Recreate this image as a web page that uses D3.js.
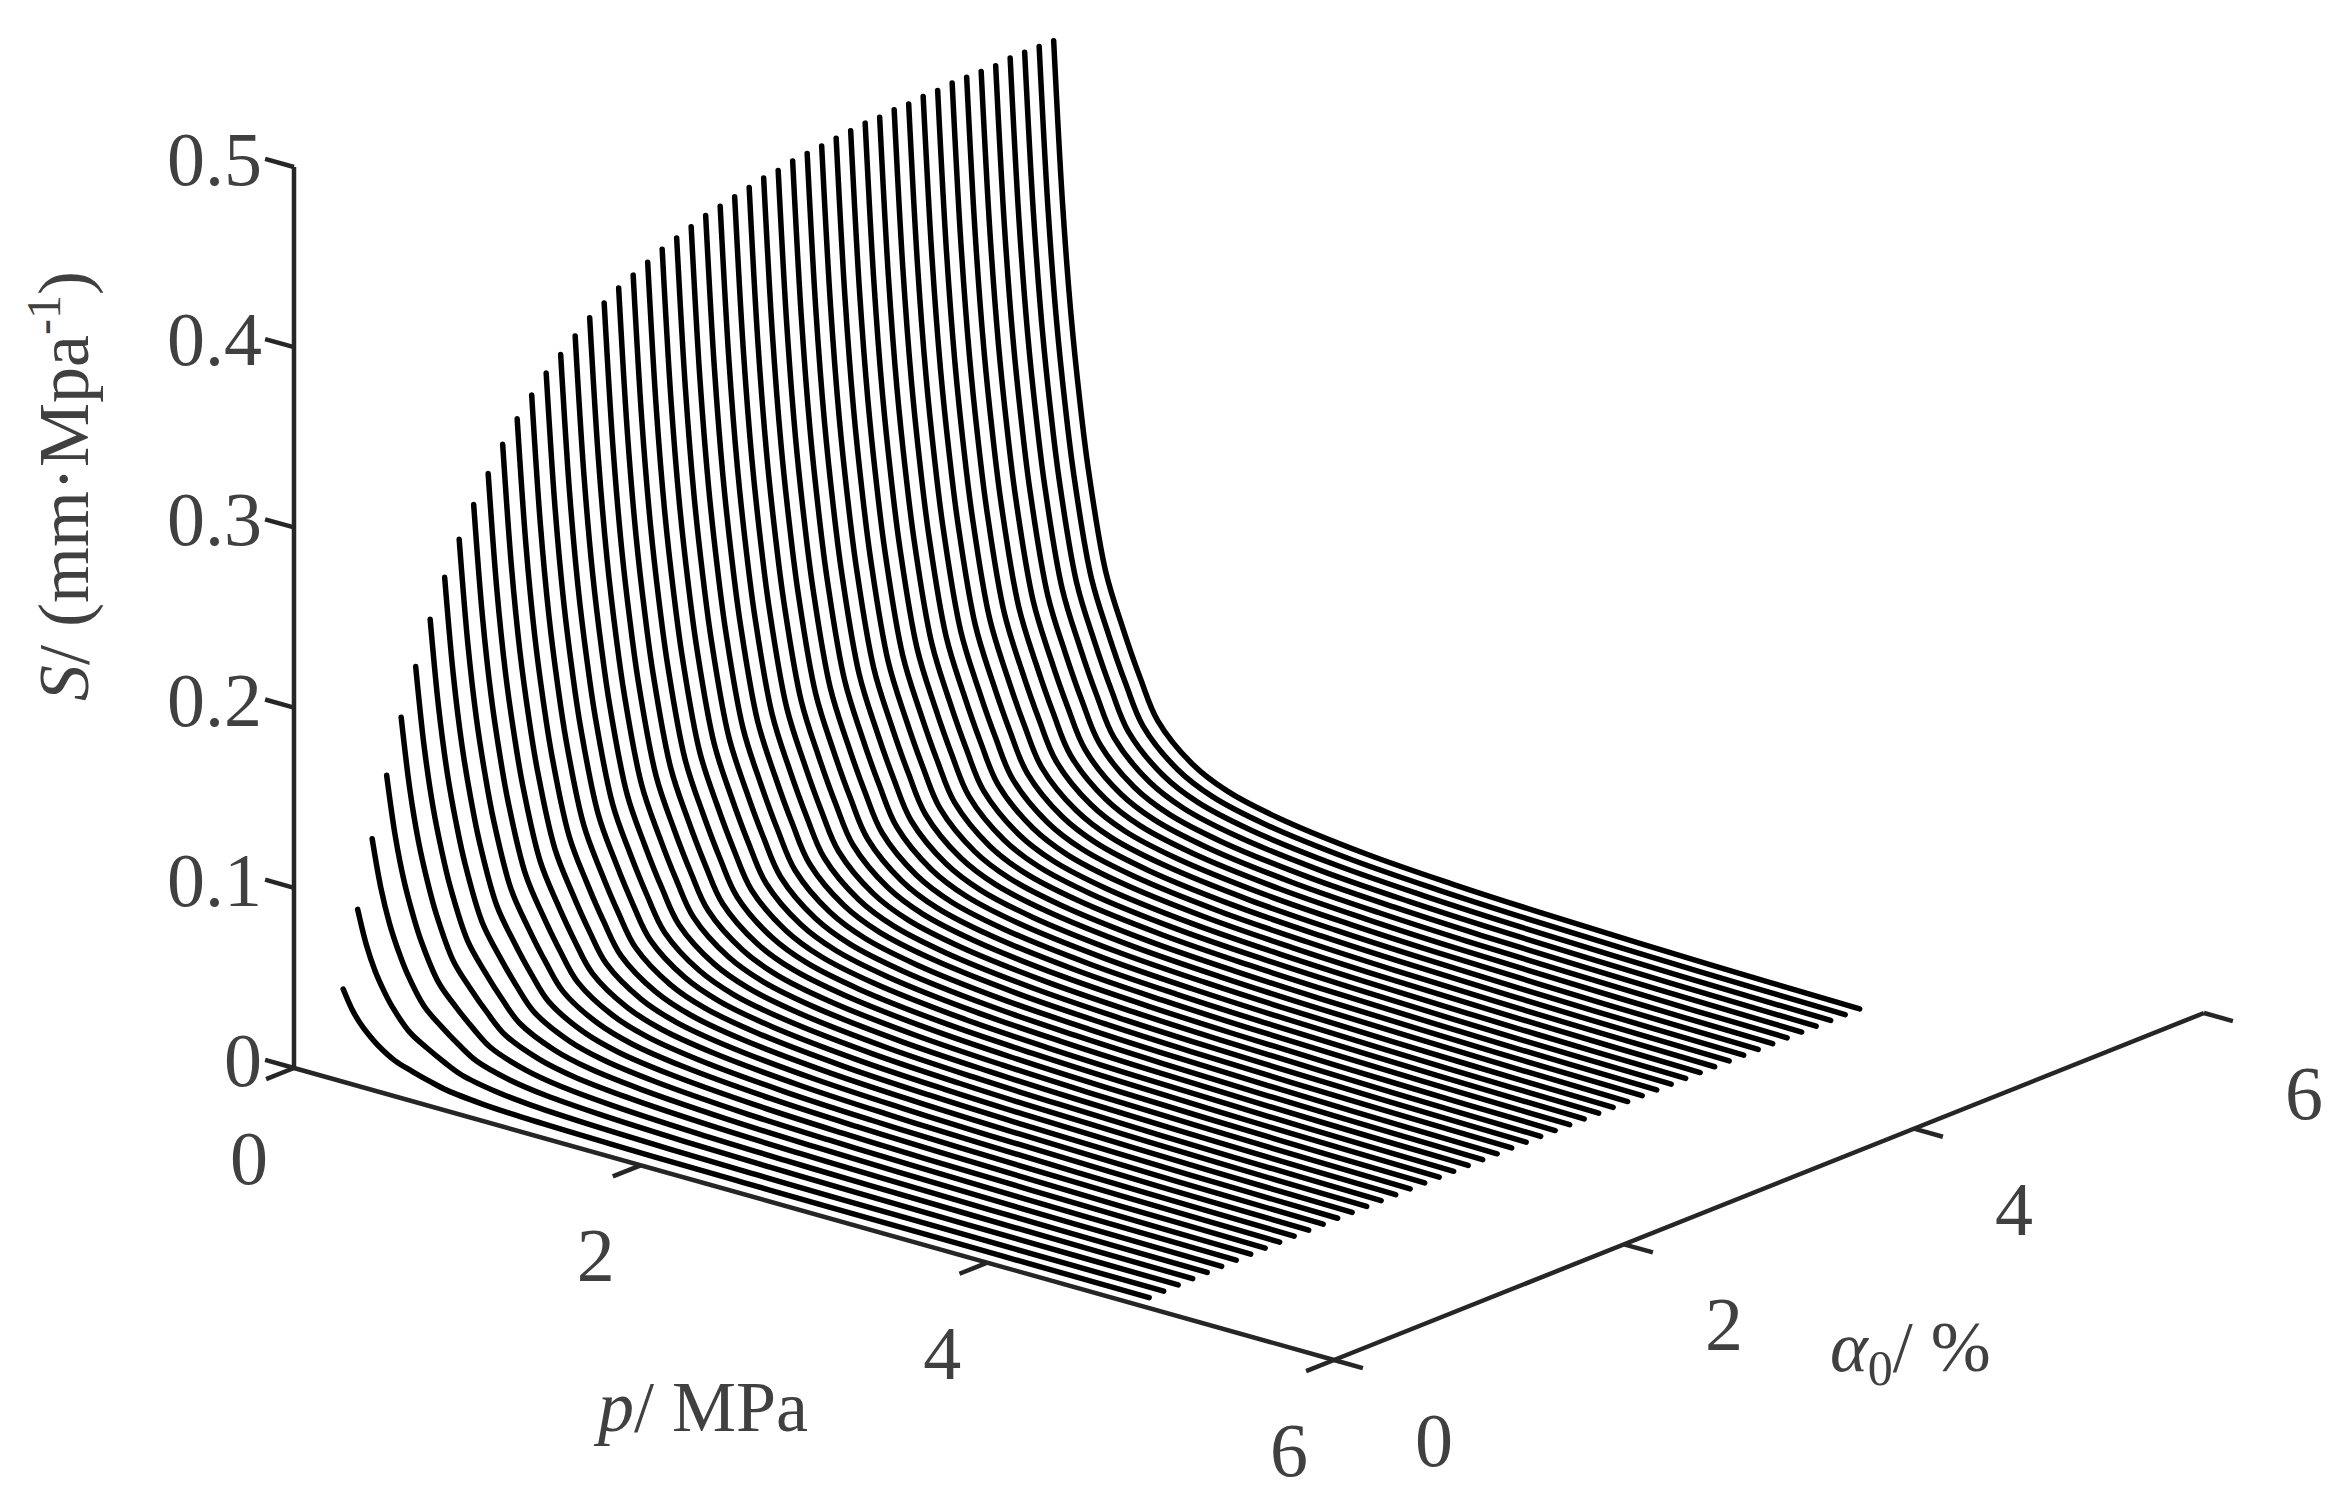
<!DOCTYPE html>
<html>
<head>
<script src="https://d3js.org/d3.v7.min.js"></script>
<style>
  body { margin: 0; background: #fff; }
</style>
</head>
<body>
<svg id="svg"></svg>
<script>
// alpha0 (%) of each curve
const alphas = d3.range(1, 51).map(i => i / 10);
const peakS = [0.046, 0.087, 0.123, 0.155, 0.184, 0.209, 0.232, 0.252, 0.270, 0.286,
               0.300, 0.313, 0.324, 0.334, 0.343, 0.350, 0.357, 0.364, 0.369, 0.374,
               0.378, 0.382, 0.386, 0.389, 0.392, 0.395, 0.397, 0.399, 0.401, 0.403,
               0.404, 0.406, 0.407, 0.408, 0.409, 0.410, 0.411, 0.411, 0.412, 0.412,
               0.413, 0.413, 0.414, 0.414, 0.414, 0.414, 0.415, 0.415, 0.415, 0.415];
// pressure grid and relative decay of S along p
const pGrid = [0.2, 0.25, 0.3, 0.35, 0.4, 0.5, 0.6, 0.7, 0.8, 1.0, 1.2, 1.5, 2.0, 2.5, 3.0, 4.0, 4.85];
const profile = [1, 0.79, 0.64, 0.53, 0.44, 0.31, 0.24, 0.18, 0.13, 0.085, 0.062, 0.045, 0.03, 0.022, 0.017, 0.011, 0.008];

const sTicks = [0, 0.1, 0.2, 0.3, 0.4, 0.5];
const pTicks = [0, 2, 4, 6];
const aTicks = [0, 2, 4, 6];

const width = 2330, height = 1492;
const font = "'Liberation Serif', 'DejaVu Serif', serif";
const svg = d3.select("#svg").attr("width", width).attr("height", height)
  .attr("font-family", font);

// oblique 3D projection: origin at (p=0, alpha=0, S=0)
const x0 = 294, y0 = 1068;
const pX = d3.scaleLinear().domain([0, 6]).range([0, 1040]);
const pY = d3.scaleLinear().domain([0, 6]).range([0, 292]);
const aX = d3.scaleLinear().domain([0, 6]).range([0, 870]);
const aY = d3.scaleLinear().domain([0, 6]).range([0, -347]);
const sY = d3.scaleLinear().domain([0, 0.5]).range([0, -901]);

const proj = (p, a, s) => [x0 + pX(p) + aX(a), y0 + pY(p) + aY(a) + sY(s)];

const line = d3.line().curve(d3.curveCatmullRom.alpha(0.5));

// curves
svg.append("g")
  .selectAll("path")
  .data(alphas)
  .join("path")
  .attr("d", (a, i) => line(pGrid.map((p, j) => proj(p, a, peakS[i] * profile[j]))))
  .attr("fill", "none")
  .attr("stroke", "#000")
  .attr("stroke-width", 5.5)
  .attr("stroke-linecap", "round")
  .attr("stroke-linejoin", "round");

// axes
const axisCol = "#262626";
const ax = svg.append("g").attr("stroke", axisCol).attr("stroke-width", 4.5).attr("fill", "none");
const seg = (a, b) => ax.append("line").attr("x1", a[0]).attr("y1", a[1]).attr("x2", b[0]).attr("y2", b[1]);

seg(proj(0, 0, 0), proj(0, 0, 0.5));
seg(proj(0, 0, 0), proj(6, 0, 0));
seg(proj(6, 0, 0), proj(6, 6, 0));

const tl = 30;
const label = (x, y, t, anchor) => svg.append("text").attr("x", x).attr("y", y)
  .attr("text-anchor", anchor).attr("dominant-baseline", "central")
  .attr("font-size", 76).attr("fill", "#404040").text(t);

sTicks.forEach(s => {
  const q = proj(0, 0, s);
  seg(q, [q[0] - tl * 0.963, q[1] - tl * 0.27]);
  label(262, q[1] - 8, s, "end");
});
pTicks.forEach(p => {
  const q = proj(p, 0, 0);
  seg(q, [q[0] - tl * 0.929, q[1] + tl * 0.37]);
  label(q[0] - 45, q[1] + 90, p, "middle");
});
aTicks.forEach(a => {
  const q = proj(6, a, 0);
  seg(q, [q[0] + tl * 0.963, q[1] + tl * 0.27]);
  label(q[0] + 100, q[1] + 80, a, "middle");
});

// axis titles
const tp = svg.append("text").attr("x", 598).attr("y", 1431).attr("font-size", 72).attr("fill", "#404040");
tp.append("tspan").attr("font-style", "italic").text("p");
tp.append("tspan").text("/ MPa");

const ta = svg.append("text").attr("x", 1830).attr("y", 1371).attr("font-size", 72).attr("fill", "#404040");
ta.append("tspan").attr("font-style", "italic").text("α");
ta.append("tspan").attr("font-size", 50).attr("dy", 14).text("0");
ta.append("tspan").attr("dy", -14).text("/ %");

const ts = svg.append("text")
  .attr("transform", "translate(88,486) rotate(-90)")
  .attr("text-anchor", "middle").attr("font-size", 72).attr("fill", "#404040");
ts.append("tspan").attr("font-style", "italic").text("S");
ts.append("tspan").text("/ (mm·Mpa");
ts.append("tspan").attr("font-size", 48).attr("dy", -28).text("-1");
ts.append("tspan").attr("dy", 28).text(")");
</script>
</body>
</html>
